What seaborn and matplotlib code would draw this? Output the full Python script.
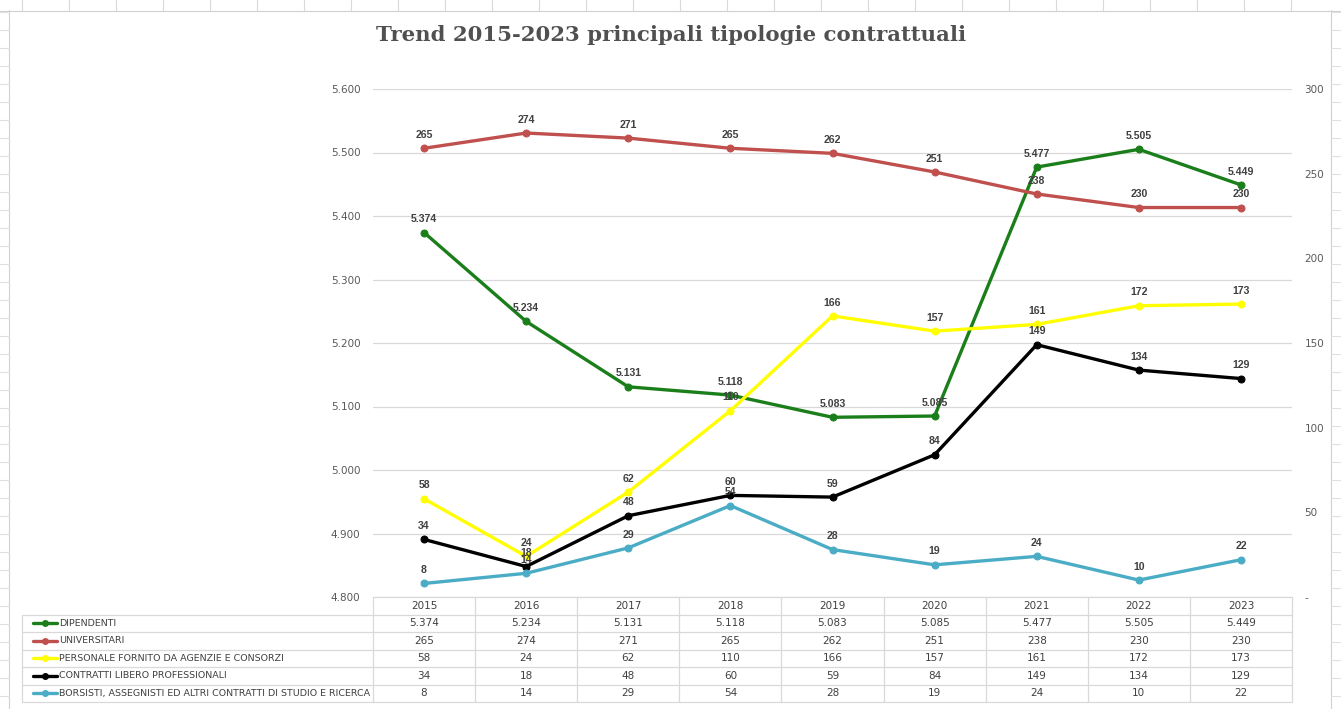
import matplotlib
matplotlib.use("Agg")
import matplotlib.pyplot as plt
import matplotlib.transforms as mtransforms
from matplotlib.lines import Line2D
import pandas as pd
import seaborn as sns

# dati
anni = [2015, 2016, 2017, 2018, 2019, 2020, 2021, 2022, 2023]
dipendenti = [5374, 5234, 5131, 5118, 5083, 5085, 5477, 5505, 5449]
universitari = [265, 274, 271, 265, 262, 251, 238, 230, 230]
personale_agenzie = [58, 24, 62, 110, 166, 157, 161, 172, 173]
libero_prof = [34, 18, 48, 60, 59, 84, 149, 134, 129]
borsisti = [8, 14, 29, 54, 28, 19, 24, 10, 22]

serie_nomi = ["DIPENDENTI", "UNIVERSITARI", "PERSONALE FORNITO DA AGENZIE E CONSORZI",
              "CONTRATTI LIBERO PROFESSIONALI",
              "BORSISTI, ASSEGNISTI ED ALTRI CONTRATTI DI STUDIO E RICERCA"]
serie_valori = [dipendenti, universitari, personale_agenzie, libero_prof, borsisti]
colori = ["#1a7f1a", "#c0504d", "#ffff00", "#000000", "#4bacc6"]

sns.set_style("white")
plt.rcParams['font.family'] = ['Liberation Sans Narrow', 'DejaVu Sans']

W, H = 1341, 709
fig = plt.figure(figsize=(W / 100, H / 100), dpi=100)
fig.patch.set_facecolor("white")


def fx(px):
    return px / W


def fy(py):
    return 1 - py / H


# sfondo foglio excel (righe leggere)
for x in range(22, 1330, 47):
    fig.add_artist(Line2D([fx(x), fx(x)], [fy(0), fy(10)], color="#d9d9d9", lw=0.8))
fig.add_artist(Line2D([0, 1], [fy(10.5), fy(10.5)], color="#d0d0d0", lw=0.8))
fig.add_artist(Line2D([fx(9), fx(9)], [0, fy(10)], color="#d0d0d0", lw=0.8))
fig.add_artist(Line2D([fx(1331), fx(1331)], [0, fy(10)], color="#d0d0d0", lw=0.8))
for y in range(12, 709, 18):
    fig.add_artist(Line2D([0, fx(9)], [fy(y), fy(y)], color="#e0e0e0", lw=0.8))
    fig.add_artist(Line2D([fx(1331), 1], [fy(y), fy(y)], color="#e0e0e0", lw=0.8))

x0, x1, y0, y1 = 373, 1292, 89, 597
ax = fig.add_axes([fx(x0), fy(y1), fx(x1) - fx(x0), fy(y0) - fy(y1)])
ax2 = ax.twinx()

df = pd.DataFrame({"anno": anni})
for nome, valori in zip(serie_nomi, serie_valori):
    df[nome] = valori

for i, (nome, col) in enumerate(zip(serie_nomi, colori)):
    target = ax if i == 0 else ax2
    sns.lineplot(data=df, x="anno", y=nome, ax=target, color=col, lw=2.4,
                 marker="o", markersize=5, markeredgecolor=col, zorder=3 + i)
    for a, v in zip(df["anno"], df[nome]):
        testo = f"{v:,}".replace(",", ".")
        target.annotate(testo, (a, v), xytext=(0, 6), textcoords="offset points",
                        ha="center", va="bottom", fontsize=7.6, fontweight="bold",
                        color="#404040", family=["Liberation Sans", "DejaVu Sans"],
                        zorder=10)

ax.set_xlim(anni[0] - 0.5, anni[-1] + 0.5)
ax.set_ylim(4800, 5600)
ax.set_yticks(range(4800, 5601, 100))
ax.set_yticklabels([f"{t:,}".replace(",", ".") for t in range(4800, 5601, 100)])
ax2.set_ylim(0, 300)
ax2.set_yticks(range(0, 301, 50))
ax2.set_yticklabels(["-" if t == 0 else str(t) for t in range(0, 301, 50)])
ax.grid(axis="y", color="#d9d9d9", lw=0.9)
ax.set_xticks([])
for a in (ax, ax2):
    a.set_xlabel("")
    a.set_ylabel("")
    for s in a.spines.values():
        s.set_visible(False)
    a.tick_params(axis="y", length=0, labelsize=7.5, labelcolor="#595959")
    a.patch.set_alpha(0)
ax.tick_params(axis="y", pad=9)
ax2.tick_params(axis="y", pad=9)
if ax.get_legend():
    ax.get_legend().remove()
if ax2.get_legend():
    ax2.get_legend().remove()

# tabella dati
tr = mtransforms.blended_transform_factory(ax.transData, fig.transFigure)
row_h = 17.5
righe_y = [y1 + row_h * k for k in range(7)]
grid_col = "#d9d9d9"
fig.add_artist(Line2D([fx(x0), fx(x1)], [fy(righe_y[0]), fy(righe_y[0])], color=grid_col, lw=0.9))
for yy in righe_y[1:]:
    fig.add_artist(Line2D([fx(22), fx(x1)], [fy(yy), fy(yy)], color=grid_col, lw=0.9))
for a in anni + [anni[-1] + 1]:
    fig.add_artist(Line2D([a - 0.5, a - 0.5], [fy(righe_y[0]), fy(righe_y[-1])],
                          color=grid_col, lw=0.9, transform=tr))
fig.add_artist(Line2D([fx(22), fx(22)], [fy(righe_y[1]), fy(righe_y[-1])], color=grid_col, lw=0.9))

for a in anni:
    fig.text(a, fy((righe_y[0] + righe_y[1]) / 2), str(a), transform=tr, ha="center",
             va="center", fontsize=7.5, color="#404040")
for r, (nome, valori, col) in enumerate(zip(serie_nomi, serie_valori, colori)):
    yc = fy((righe_y[r + 1] + righe_y[r + 2]) / 2)
    fig.add_artist(Line2D([fx(33), fx(57)], [yc, yc], color=col, lw=2.4))
    fig.add_artist(Line2D([fx(45)], [yc], color=col, marker="o", markersize=4))
    fig.text(fx(59), yc, nome, ha="left", va="center", fontsize=6.8, color="#404040")
    for a, v in zip(anni, valori):
        fig.text(a, yc, f"{v:,}".replace(",", "."), transform=tr, ha="center",
                 va="center", fontsize=7.5, color="#404040")

fig.text(fx(671), fy(35), "Trend 2015-2023 principali tipologie contrattuali",
         ha="center", va="center", fontsize=15.3, fontweight="bold", color="#505050",
         family=["DejaVu Serif"])

fig.savefig("out.png", dpi=100)
